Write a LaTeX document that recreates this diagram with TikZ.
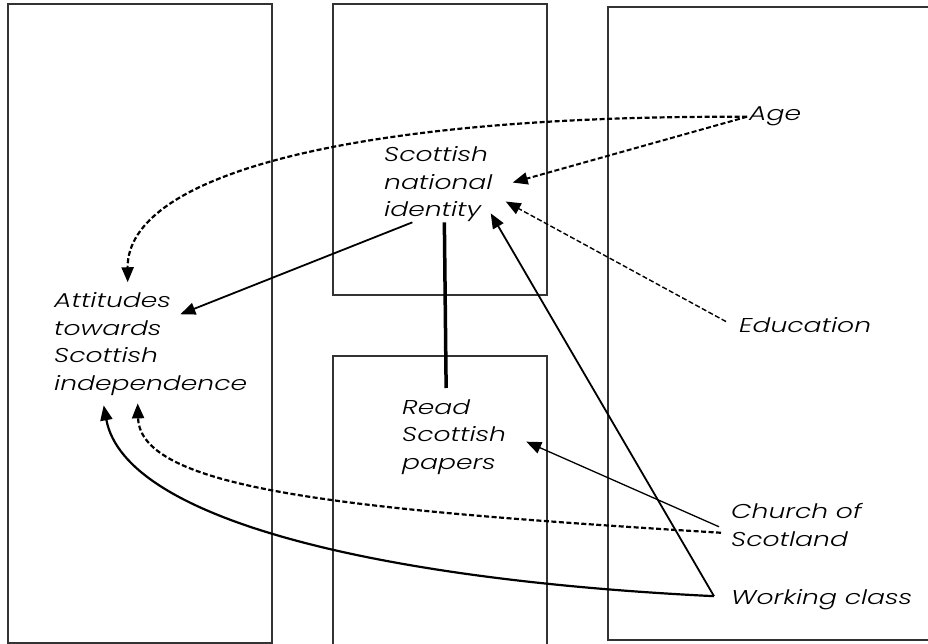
\documentclass[tikz,border=0pt]{standalone}
\usepackage{fontspec}
\setmainfont{Poppins}[FakeStretch=1.33,ItalicFont=* Light Italic]
\usetikzlibrary{arrows.meta}

\begin{document}
\begin{tikzpicture}[x=1pt,y=-1pt,>={Triangle[length=15pt,width=12pt]},
		lbl/.style={align=left,inner sep=2pt,anchor=base west,font=\fontsize{20}{27.5}\selectfont\itshape},
		box/.style={line width=1.2pt,black!80},
		dsh/.style={dash pattern=on 5pt off 2.5pt}]
		
		\useasboundingbox (0,0) rectangle (928,644);
		
		\draw[box] (8,4) rectangle (272,643);
		\draw[box] (333,4) rectangle (547,295);
		\draw[box] (333,646)--(333,356)--(547,356)--(547,646);
		\draw[box] (930,7)--(608,7)--(608,640)--(930,640);
		
		% base west sits on the last line
		\node[lbl] (att) at (52,390) {Attitudes\\towards\\Scottish\\independence};
		\node[lbl] (sni) at (382,217) {Scottish\\national\\identity};
		\node[lbl] (read) at (400,469) {Read\\Scottish\\papers};
		\node[lbl] (age) at (747,121) {Age};
		\node[lbl] (edu) at (737,332) {Education};
		\node[lbl] (chu) at (729,546) {Church of\\Scotland};
		\node[lbl] (wc) at (729,604) {Working class};
		
		\draw[->,dsh,line width=2.2pt] (age.west) .. controls (350,115) and (127,175) .. ([shift={(-23,-8)}]att.north);
		\draw[->,dsh,line width=2pt] (age.west) -- ([shift={(18,-2)}]sni.east);
		\draw[->,dsh,line width=1.4pt] ([shift={(-11,-3)}]edu.west) -- ([shift={(11,17)}]sni.east);
		
		\draw[->,line width=1.8pt] ([shift={(-26,-2)}]sni.south) -- ([shift={(-69,24)}]att.north east);
		\draw[line width=3.5pt] ([shift={(6,-2)}]sni.south) -- ([shift={(-8,-9)}]read.north);
		\draw[->,line width=1.8pt] ([shift={(-15,-3)}]wc.west) -- ([shift={(-4,-11)}]sni.south east);
		\draw[->,line width=1.3pt] ([shift={(-10,2)}]chu.west) -- ([shift={(18,5)}]read.east);
		
		\draw[->,dsh,line width=2.2pt] ([shift={(-8,8)}]chu.west) .. controls (350,510) and (140,490) .. ([shift={(-13,6)}]att.south);
		\draw[->,line width=2.2pt] ([shift={(-15,-3)}]wc.west) .. controls (380,580) and (125,520) .. ([shift={(-47,8)}]att.south);
	\end{tikzpicture}
\end{document}
